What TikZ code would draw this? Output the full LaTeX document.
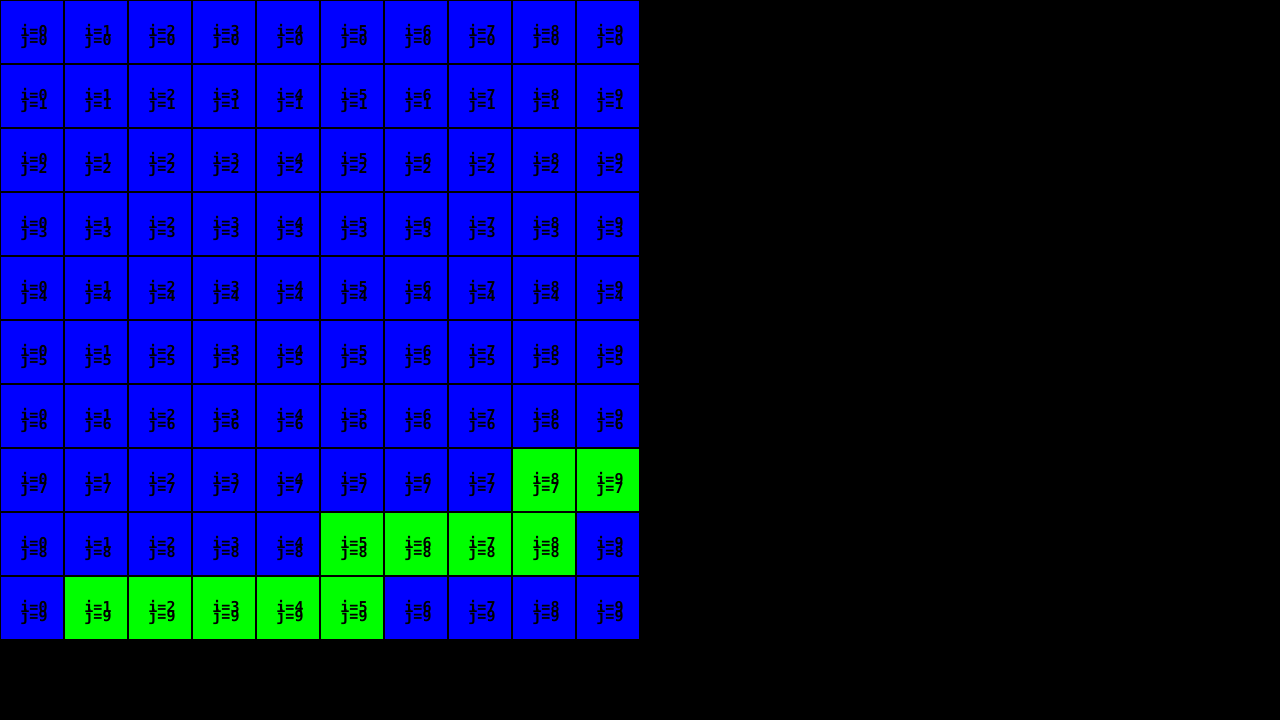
\documentclass[tikz,border=0pt]{standalone}
\usepackage{fontspec}
\setmonofont{DejaVu Sans Mono}
\newcommand\celltightlines{\lineskiplimit-100pt\relax\lineskip0pt\relax}
\tikzset{
  cellbox/.style={rectangle, draw=black, line width=2pt, minimum size=64pt, inner sep=0pt,
    fill=blue},
  celltext/.style={text=black, align=center, inner sep=0pt, xshift=2pt, yshift=-4pt,
    font=\ttfamily\bfseries\fontsize{15}{9}\selectfont\celltightlines},
  c8-7/.style={fill=green}, c9-7/.style={fill=green},
  c5-8/.style={fill=green}, c6-8/.style={fill=green}, c7-8/.style={fill=green}, c8-8/.style={fill=green},
  c1-9/.style={fill=green}, c2-9/.style={fill=green}, c3-9/.style={fill=green}, c4-9/.style={fill=green}, c5-9/.style={fill=green}
}
\begin{document}
\begin{tikzpicture}[x=1pt,y=-1pt]
\fill[black] (0,0) rectangle (1280,720);
\useasboundingbox (0,0) rectangle (1280,720);
\foreach \j in {0,...,9} {
  \foreach \i in {0,...,9} {
    \node[cellbox, c\i-\j/.try, label={[celltext]center:{i=\i\\j=\j}}] (c\i\j) at ({32+64*\i},{32+64*\j}) {};
  }
}
\end{tikzpicture}
\end{document}
